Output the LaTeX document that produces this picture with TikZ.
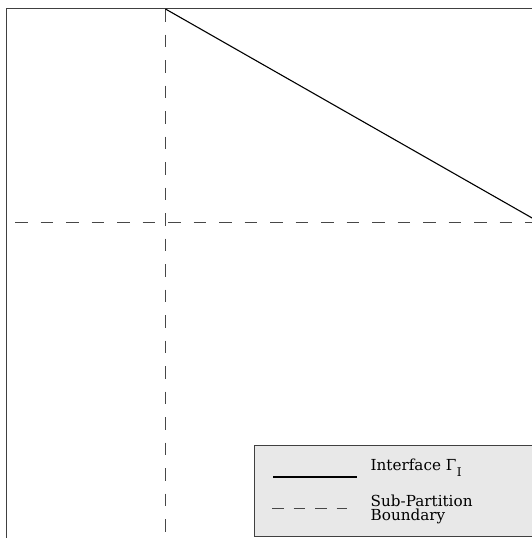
\documentclass[tikz,border=0pt]{standalone}
\usepackage{fontspec}
\setmainfont{DejaVu Serif}
\newcommand{\legfont}{\fontsize{15.2pt}{14pt}\selectfont}
\newcommand{\subfont}{\fontsize{12pt}{12pt}\selectfont}
\begin{document}
\begin{tikzpicture}[x=1pt,y=-1pt,
  frameline/.style={draw=black!75,line width=1.2pt},
  partline/.style={draw=black!72,line width=1.1pt,dash pattern=on 12.5pt off 13pt},
  ifaceline/.style={draw=black,line width=1.1pt},
  legendbox/.style={draw=black!75,fill=black!9,line width=1pt},
  legendtext/.style={anchor=base west,inner sep=0pt,font=\legfont,align=left}]
\useasboundingbox (0,0) rectangle (532,538);
\clip (0,0) rectangle (532,538);
% frame
\coordinate (bl) at (6.5,540);
\coordinate (tl) at (6.5,8.5);
\coordinate (tr) at (545,8.5);
\draw[frameline] (bl) -- (tl) -- (tr);
% sub-partition boundaries
\coordinate (vtop) at (165.5,9);
\coordinate (vbot) at (165.5,540);
\coordinate (hleft) at (15,222.5);
\coordinate (hright) at (545,222.5);
\draw[partline] (vtop) -- (vbot);
\draw[partline] (hleft) -- (hright);
% interface
\coordinate (iend) at (540,222.5);
\draw[ifaceline] (vtop) -- (iend);
% legend
\draw[legendbox] (254.5,445) rectangle (545,536.5);
\coordinate (s1a) at (273,477);
\coordinate (s1b) at (357,477);
\coordinate (s2a) at (272,508.5);
\coordinate (s2b) at (347,508.5);
\draw[ifaceline,line width=1.2pt] (s1a) -- (s1b);
\draw[draw=black!72,line width=1.2pt,dash pattern=on 11.5pt off 10pt] (s2a) -- (s2b);
\node[legendtext] (lab1) at (370.5,470.7) {\legfont Interface Γ\kern0.5pt\raisebox{-6pt}{\subfont I}};
\node[legendtext] (lab2) at (370.5,520.7) {\legfont Sub-Partition\\\legfont Boundary};
\end{tikzpicture}
\end{document}
